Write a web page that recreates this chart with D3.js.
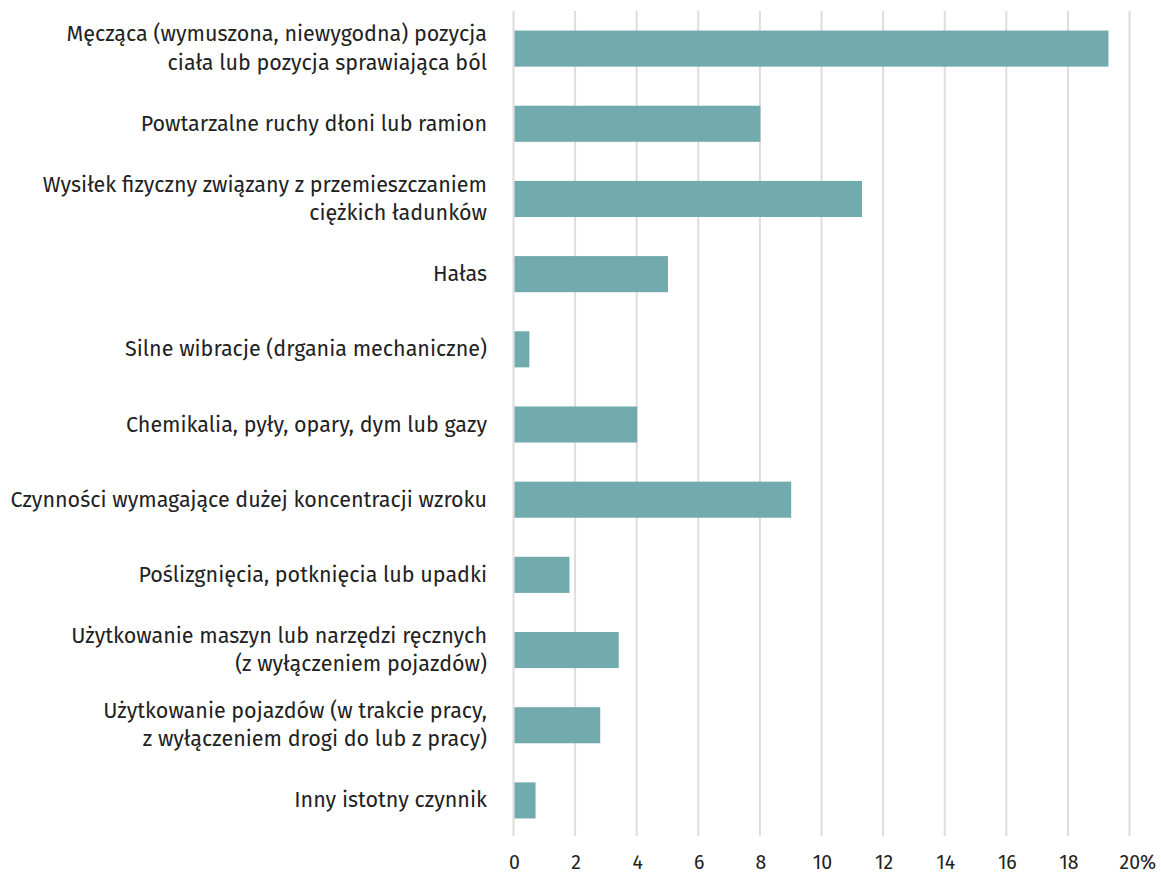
<!DOCTYPE html>
<html>
<head>
<meta charset="utf-8">
<script src="https://cdn.jsdelivr.net/npm/d3@7"></script>
<style>
  body { margin: 0; background: #fff; }
  svg text { font-family: "Fira Sans", "Noto Sans", sans-serif; fill: #222; }
</style>
</head>
<body>
<svg id="chart"></svg>
<script>
const categories = [
  "Męcząca (wymuszona, niewygodna) pozycja\nciała lub pozycja sprawiająca ból",
  "Powtarzalne ruchy dłoni lub ramion",
  "Wysiłek fizyczny związany z przemieszczaniem\nciężkich ładunków",
  "Hałas",
  "Silne wibracje (drgania mechaniczne)",
  "Chemikalia, pyły, opary, dym lub gazy",
  "Czynności wymagające dużej koncentracji wzroku",
  "Poślizgnięcia, potknięcia lub upadki",
  "Użytkowanie maszyn lub narzędzi ręcznych\n(z wyłączeniem pojazdów)",
  "Użytkowanie pojazdów (w trakcie pracy,\nz wyłączeniem drogi do lub z pracy)",
  "Inny istotny czynnik"
];
const values = [19.3, 8.0, 11.3, 5.0, 0.5, 4.0, 9.0, 1.8, 3.4, 2.8, 0.7];
const xTicks = [0, 2, 4, 6, 8, 10, 12, 14, 16, 18, 20];

const width = 1161;
const height = 875;
const left = 514;
const right = 1130;

const svg = d3.select("#chart").attr("width", width).attr("height", height);

const xScale = d3.scaleLinear().domain([0, 20]).range([left, right]);
const yScale = d3.scaleBand()
  .domain(categories)
  .range([11, 838])
  .paddingInner(0.52)
  .paddingOuter(0.26);

// gridlines
svg.append("g")
  .selectAll("line")
  .data(xTicks)
  .enter()
  .append("line")
  .attr("x1", d => xScale(d) - 0.5)
  .attr("x2", d => xScale(d) - 0.5)
  .attr("y1", 11)
  .attr("y2", 836)
  .attr("stroke", "#dddddd")
  .attr("stroke-width", 2);

// bars
svg.append("g")
  .selectAll("rect")
  .data(values)
  .enter()
  .append("rect")
  .attr("x", xScale(0) + 0.5)
  .attr("y", (d, i) => yScale(categories[i]))
  .attr("width", d => xScale(d) - xScale(0) - 0.5)
  .attr("height", yScale.bandwidth())
  .attr("fill", "#72abad");

// category labels
const lineH = 28.5;
const labels = svg.append("g")
  .selectAll("text")
  .data(categories)
  .enter()
  .append("text")
  .attr("text-anchor", "end")
  .attr("font-size", 21.5)
  .attr("y", d => yScale(d) + yScale.bandwidth() / 2);

labels.each(function (d) {
  const lines = d.split("\n");
  const t = d3.select(this);
  lines.forEach((ln, j) => {
    t.append("tspan")
      .attr("x", 487)
      .attr("dy", j === 0 ? ((-(lines.length - 1) / 2) * lineH + 7) : lineH)
      .text(ln);
  });
});

// x axis
const xAxis = d3.axisBottom(xScale)
  .tickValues(xTicks)
  .tickSize(0)
  .tickPadding(0)
  .tickFormat(d => d);

const ax = svg.append("g")
  .attr("transform", "translate(0, 855)")
  .call(xAxis);
ax.select(".domain").remove();
ax.selectAll("text")
  .attr("font-size", 19.5)
  .attr("dy", "0.71em")
  .style("fill", "#222")
  .style("font-family", '"Fira Sans", "Noto Sans", sans-serif');
ax.selectAll(".tick")
  .filter(d => d === 20)
  .select("text")
  .attr("text-anchor", "start")
  .attr("x", -11)
  .text("20%");
</script>
</body>
</html>
